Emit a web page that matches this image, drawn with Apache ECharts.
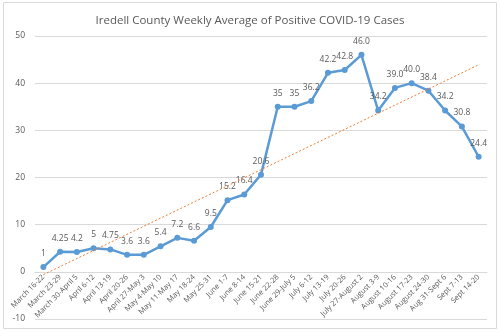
<!DOCTYPE html>
<html><head><meta charset="utf-8">
<script src="https://cdn.jsdelivr.net/npm/echarts@6/dist/echarts.min.js"></script>
<style>html,body{margin:0;padding:0;background:#fff}#c{width:500px;height:333px}</style>
</head><body><div id="c"></div>
<script>
var categories = ["March 16-22","March 23-29","March 30-April 5","April 6-12","April 13-19","April 20-26","April 27-May 3","May 4-May 10","May 11-May 17","May 18-24","May 25-31","June 1-7","June 8-14","June 15-21","June 22-28","June 29-July 5","July 6-12","July 13-19","July 20-26","July 27-August 2","August 3-9","August 10-16","August 17-23","August 24-30","Aug 31-Sept 6","Sept 7-13","Sept 14-20"];
var values = [1,4.25,4.2,5,4.75,3.6,3.6,5.4,7.2,6.6,9.5,15.2,16.4,20.6,35,35,36.2,42.2,42.8,46.0,34.2,39.0,40.0,38.4,34.2,30.8,24.4];
var valueLabels = ["1","4.25","4.2","5","4.75","3.6","3.6","5.4","7.2","6.6","9.5","15.2","16.4","20.6","35","35","36.2","42.2","42.8","46.0","34.2","39.0","40.0","38.4","34.2","30.8","24.4"];
var trendEnds = [-0.6, 43.9];
var yTicks = [-10, 0, 10, 20, 30, 40, 50];

var gridTop = 36, gridBottom = 14, H = 333;
var plotH = H - gridTop - gridBottom;
var zeroOffset = plotH * (0 - yTicks[0]) / (yTicks[yTicks.length-1] - yTicks[0]);

var chart = echarts.init(document.getElementById('c'), null, {renderer:'canvas'});
var font = '"Open Sans", "Liberation Sans", sans-serif';
chart.setOption({
  animation:false,
  title:{text:'Iredell County Weekly Average of Positive COVID-19 Cases', left:'center', top:10,
    textStyle:{fontFamily:font, fontSize:11.5, fontWeight:'normal', color:'#595959'}},
  graphic:[{type:'rect', shape:{x:3.5,y:2.5,width:493,height:326}, style:{fill:'none', stroke:'#d9d9d9', lineWidth:1}, silent:true}],
  grid:[
    {left:35, right:13, top:gridTop, bottom:gridBottom, containLabel:false, outerBoundsMode:'none'},
    {left:35, right:13, top:gridTop, bottom:gridBottom + zeroOffset, containLabel:false, outerBoundsMode:'none'}
  ],
  xAxis:[
    {gridIndex:0, type:'category', data:categories, boundaryGap:true,
      axisLine:{show:false, onZero:false}, axisTick:{show:false}, axisLabel:{show:false}},
    {gridIndex:1, type:'category', data:categories, boundaryGap:true, position:'bottom',
      axisLine:{show:true, onZero:false, lineStyle:{color:'#d9d9d9'}}, axisTick:{show:false},
      axisLabel:{interval:0, rotate:45, fontFamily:font, fontSize:7.5, color:'#595959', margin:4, hideOverlap:false}}
  ],
  yAxis:[
    {gridIndex:0, type:'value', min:yTicks[0], max:yTicks[yTicks.length-1], interval:10,
      axisLine:{show:false}, axisTick:{show:false},
      splitLine:{show:true, lineStyle:{color:'#d9d9d9', width:1}},
      axisLabel:{fontFamily:font, fontSize:8.5, color:'#595959', margin:10, showMinLabel:true, showMaxLabel:true}},
    {gridIndex:1, type:'value', min:0, max:yTicks[yTicks.length-1], show:false}
  ],
  series:[{
    type:'line', xAxisIndex:0, yAxisIndex:0, data:values, symbol:'circle', symbolSize:6,
    lineStyle:{color:'#5b9bd5', width:2.5}, itemStyle:{color:'#5b9bd5'},
    label:{show:true, position:'top', distance:6, fontFamily:font, fontSize:8.5, color:'#595959',
      formatter:function(p){return valueLabels[p.dataIndex];}},
    z:3,
    markLine:{silent:true, symbol:['none','none'], label:{show:false},
      lineStyle:{color:'#ed7d31', type:[2,2], width:1},
      data:[[{coord:[categories[0], trendEnds[0]]},{coord:[categories[categories.length-1], trendEnds[1]]}]]}
  }]
});
</script></body></html>
